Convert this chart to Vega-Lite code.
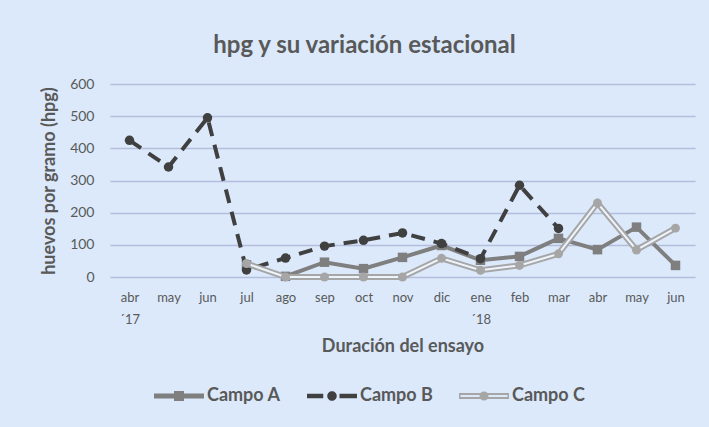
{
  "$schema": "https://vega.github.io/schema/vega-lite/v6.json",
  "width": 585,
  "height": 193,
  "autosize": {"type": "none"},
  "padding": {"left": 110, "top": 84, "right": 14, "bottom": 150},
  "background": "#dbe9fb",
  "config": {
    "view": {"stroke": null},
    "font": "Lato"
  },
  "title": {
    "text": "hpg y su variación estacional",
    "font": "Lato",
    "fontSize": 24,
    "fontWeight": "bold",
    "color": "#595959",
    "anchor": "middle",
    "frame": "group",
    "dx": -38,
    "offset": 19
  },
  "data": {
    "values": [
      {"mes": "abr|´17", "campo": "Campo B", "hpg": 425},
      {"mes": "may", "campo": "Campo B", "hpg": 342},
      {"mes": "jun", "campo": "Campo B", "hpg": 495},
      {"mes": "jul", "campo": "Campo B", "hpg": 22},
      {"mes": "ago", "campo": "Campo B", "hpg": 59},
      {"mes": "sep", "campo": "Campo B", "hpg": 96},
      {"mes": "oct", "campo": "Campo B", "hpg": 114},
      {"mes": "nov", "campo": "Campo B", "hpg": 137},
      {"mes": "dic", "campo": "Campo B", "hpg": 104},
      {"mes": "ene|´18", "campo": "Campo B", "hpg": 57},
      {"mes": "feb", "campo": "Campo B", "hpg": 285},
      {"mes": "mar", "campo": "Campo B", "hpg": 151},
      {"mes": "jul", "campo": "Campo A", "hpg": 38},
      {"mes": "ago", "campo": "Campo A", "hpg": 2},
      {"mes": "sep", "campo": "Campo A", "hpg": 46},
      {"mes": "oct", "campo": "Campo A", "hpg": 26},
      {"mes": "nov", "campo": "Campo A", "hpg": 61},
      {"mes": "dic", "campo": "Campo A", "hpg": 98},
      {"mes": "ene|´18", "campo": "Campo A", "hpg": 52},
      {"mes": "feb", "campo": "Campo A", "hpg": 64},
      {"mes": "mar", "campo": "Campo A", "hpg": 120},
      {"mes": "abr", "campo": "Campo A", "hpg": 85},
      {"mes": "may ", "campo": "Campo A", "hpg": 155},
      {"mes": "jun ", "campo": "Campo A", "hpg": 36},
      {"mes": "jul", "campo": "Campo C", "hpg": 42},
      {"mes": "ago", "campo": "Campo C", "hpg": 0},
      {"mes": "sep", "campo": "Campo C", "hpg": 0},
      {"mes": "oct", "campo": "Campo C", "hpg": 0},
      {"mes": "nov", "campo": "Campo C", "hpg": 0},
      {"mes": "dic", "campo": "Campo C", "hpg": 58},
      {"mes": "ene|´18", "campo": "Campo C", "hpg": 21},
      {"mes": "feb", "campo": "Campo C", "hpg": 36},
      {"mes": "mar", "campo": "Campo C", "hpg": 72},
      {"mes": "abr", "campo": "Campo C", "hpg": 230},
      {"mes": "may ", "campo": "Campo C", "hpg": 84},
      {"mes": "jun ", "campo": "Campo C", "hpg": 152}
    ]
  },
  "encoding": {
    "x": {
      "field": "mes",
      "type": "nominal",
      "sort": ["abr|´17", "may", "jun", "jul", "ago", "sep", "oct", "nov", "dic", "ene|´18", "feb", "mar", "abr", "may ", "jun "],
      "scale": {"type": "point", "padding": 0.5},
      "axis": {
        "title": "Duración del ensayo",
        "titleFont": "Lato",
        "titleFontSize": 18,
        "titleFontWeight": "bold",
        "titleColor": "#595959",
        "titlePadding": 11,
        "labelExpr": "split(trim(datum.label), '|')",
        "labelFont": "Lato",
        "labelFontSize": 13,
        "labelColor": "#595959",
        "labelAngle": 0,
        "labelPadding": 14,
        "labelLineHeight": 22,
        "domain": false,
        "ticks": false,
        "grid": false
      }
    },
    "y": {
      "field": "hpg",
      "type": "quantitative",
      "scale": {"domain": [0, 600], "nice": false},
      "axis": {
        "title": "huevos por gramo (hpg)",
        "titleFont": "Lato",
        "titleFontSize": 18,
        "titleFontWeight": "bold",
        "titleColor": "#595959",
        "titlePadding": 11,
        "values": [0, 100, 200, 300, 400, 500, 600],
        "labelFont": "Lato",
        "labelFontSize": 14,
        "labelColor": "#595959",
        "labelPadding": 16,
        "domain": false,
        "ticks": false,
        "grid": true,
        "gridColor": "#b4bedc",
        "gridWidth": 1.3
      }
    }
  },
  "layer": [
    {
      "transform": [{"filter": "datum.campo == 'Campo A'"}],
      "mark": {"type": "line", "stroke": "#7f7f7f", "strokeWidth": 4}
    },
    {
      "transform": [{"filter": "datum.campo == 'Campo A'"}],
      "mark": {"type": "point", "shape": "square", "filled": true, "fill": "#7f7f7f", "opacity": 1, "size": 90}
    },
    {
      "transform": [{"filter": "datum.campo == 'Campo B'"}],
      "mark": {"type": "line", "stroke": "#404040", "strokeWidth": 4, "strokeDash": [14, 9]}
    },
    {
      "transform": [{"filter": "datum.campo == 'Campo B'"}],
      "mark": {"type": "point", "shape": "circle", "filled": true, "fill": "#404040", "opacity": 1, "size": 90}
    },
    {
      "transform": [{"filter": "datum.campo == 'Campo C'"}],
      "mark": {"type": "line", "stroke": "#a6a6a6", "strokeWidth": 6}
    },
    {
      "transform": [{"filter": "datum.campo == 'Campo C'"}],
      "mark": {"type": "line", "stroke": "#eef4fc", "strokeWidth": 2}
    },
    {
      "transform": [{"filter": "datum.campo == 'Campo C'"}],
      "mark": {"type": "point", "shape": "circle", "filled": true, "fill": "#a6a6a6", "opacity": 1, "size": 80}
    },
    {
      "mark": {"type": "point", "filled": true, "opacity": 0},
      "encoding": {
        "shape": {
          "field": "campo",
          "type": "nominal",
          "scale": {
            "domain": ["Campo A", "Campo B", "Campo C"],
            "range": [
              "M-1,-0.1H1V0.1H-1Z M-0.2,-0.2H0.2V0.2H-0.2Z",
              "M-1,-0.09H-0.35V0.09H-1Z M0.3,-0.09H1V0.09H0.3Z M-0.19,0A0.19,0.19 0 1,1 0.19,0A0.19,0.19 0 1,1 -0.19,0Z",
              "M-1,-0.12H1V0.12H-1Z M-0.94,-0.04V0.04H0.94V-0.04Z M-0.18,0A0.18,0.18 0 1,1 0.18,0A0.18,0.18 0 1,1 -0.18,0Z"
            ]
          },
          "legend": {
            "title": null,
            "orient": "none",
            "legendX": 44,
            "legendY": 287,
            "direction": "horizontal",
            "symbolSize": 2500,
            "symbolOpacity": 1,
            "symbolStrokeWidth": 0,
            "labelFont": "Lato",
            "labelFontSize": 18,
            "labelFontWeight": "bold",
            "labelColor": "#595959",
            "labelOffset": 3,
            "columnPadding": 26
          }
        },
        "fill": {
          "field": "campo",
          "type": "nominal",
          "scale": {
            "domain": ["Campo A", "Campo B", "Campo C"],
            "range": ["#7f7f7f", "#404040", "#a6a6a6"]
          },
          "legend": {
            "title": null,
            "orient": "none",
            "legendX": 44,
            "legendY": 287,
            "direction": "horizontal",
            "symbolSize": 2500,
            "symbolOpacity": 1,
            "symbolStrokeWidth": 0,
            "labelFont": "Lato",
            "labelFontSize": 18,
            "labelFontWeight": "bold",
            "labelColor": "#595959",
            "labelOffset": 3,
            "columnPadding": 26
          }
        }
      }
    }
  ]
}
